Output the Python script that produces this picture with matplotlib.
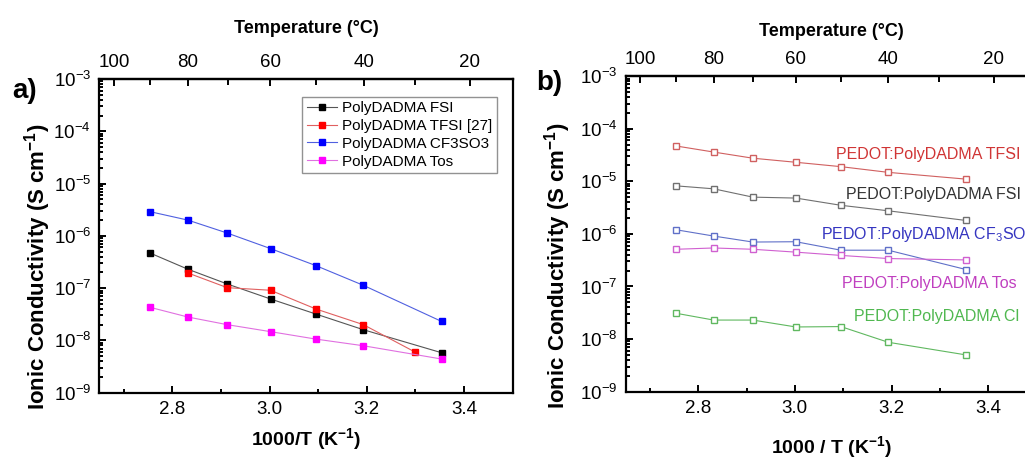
import numpy as np
import matplotlib
matplotlib.use("Agg")
import matplotlib.pyplot as plt
from matplotlib.ticker import LogLocator, NullFormatter, FixedLocator

plt.rcParams['font.family'] = ['Liberation Sans', 'DejaVu Sans']
plt.rcParams['mathtext.fontset'] = 'custom'
plt.rcParams['mathtext.rm'] = 'Liberation Sans'
plt.rcParams['mathtext.bf'] = 'Liberation Sans:bold'
plt.rcParams['mathtext.default'] = 'regular'

# 1000/T (K^-1) of the measurement points
inv_t = [2.754, 2.832, 2.913, 3.002, 3.095, 3.193, 3.354]
inv_t_tfsi = [2.832, 2.913, 3.002, 3.095, 3.193, 3.299]

# a) polyelectrolytes, S/cm
fsi = [4.7e-7, 2.3e-7, 1.2e-7, 6.2e-8, 3.2e-8, 1.6e-8, 5.8e-9]
tfsi = [1.95e-7, 1.02e-7, 9.1e-8, 4.0e-8, 2.0e-8, 6.0e-9]
cf3so3 = [2.9e-6, 2.0e-6, 1.13e-6, 5.7e-7, 2.7e-7, 1.13e-7, 2.3e-8]
tos = [4.3e-8, 2.8e-8, 2.0e-8, 1.47e-8, 1.06e-8, 7.9e-9, 4.4e-9]

# b) PEDOT:PolyDADMA X films, S/cm
pedot_tfsi = [4.7e-5, 3.6e-5, 2.75e-5, 2.3e-5, 1.9e-5, 1.48e-5, 1.1e-5]
pedot_fsi = [8.2e-6, 7.2e-6, 5.0e-6, 4.8e-6, 3.5e-6, 2.75e-6, 1.8e-6]
pedot_cf3so3 = [1.2e-6, 9.1e-7, 7.0e-7, 7.1e-7, 4.9e-7, 4.9e-7, 2.1e-7]
pedot_tos = [5.1e-7, 5.4e-7, 5.1e-7, 4.5e-7, 3.9e-7, 3.4e-7, 3.2e-7]
pedot_cl = [3.1e-8, 2.3e-8, 2.3e-8, 1.7e-8, 1.73e-8, 8.7e-9, 5.0e-9]

temp_major = [100, 80, 60, 40, 20]
temp_minor = [90, 70, 50, 30]


def to_celsius(x):
    with np.errstate(divide='ignore'):
        return 1000.0 / np.asarray(x, dtype=float) - 273.15


def to_inv_t(t):
    with np.errstate(divide='ignore'):
        return 1000.0 / (np.asarray(t, dtype=float) + 273.15)


def style_axes(ax, ylabel_x, top_pad):
    ax.set_yscale('log')
    ax.set_ylim(1e-9, 1e-3)
    ax.set_xlim(2.65, 3.5)
    ax.xaxis.set_major_locator(FixedLocator([2.8, 3.0, 3.2, 3.4]))
    ax.xaxis.set_minor_locator(FixedLocator([2.7, 2.9, 3.1, 3.3]))
    ax.xaxis.set_major_formatter(plt.FuncFormatter(lambda v, p: f'{v:.1f}'))
    ax.yaxis.set_major_locator(LogLocator(base=10, numticks=10))
    ax.yaxis.set_minor_locator(LogLocator(base=10, subs=np.arange(2, 10), numticks=20))
    ax.yaxis.set_minor_formatter(NullFormatter())
    ax.tick_params(which='both', direction='in', top=False, right=False,
                   labelsize=13.5, width=1.4)
    ax.tick_params(which='major', length=5, pad=6)
    ax.tick_params(which='minor', length=3)
    for s in ax.spines.values():
        s.set_linewidth(1.6)
    ax.set_ylabel('Ionic Conductivity (S cm$^{\\mathbf{-1}}$)',
                  fontsize=16, fontweight='bold')
    ax.yaxis.set_label_coords(ylabel_x, 0.40)

    top = ax.secondary_xaxis('top', functions=(to_celsius, to_inv_t))
    top.set_xticks(temp_major)
    top.xaxis.set_minor_locator(FixedLocator(temp_minor))
    top.tick_params(which='both', direction='in', labelsize=13.5, width=1.4, pad=6)
    top.tick_params(which='major', length=5)
    top.tick_params(which='minor', length=4)
    top.spines['top'].set_linewidth(1.6)
    top.set_xlabel('Temperature (°C)', fontsize=13, fontweight='bold', labelpad=top_pad)
    return top


fig = plt.figure(figsize=(10.25, 4.58), dpi=100)
ax1 = fig.add_axes([0.0969, 0.1426, 0.4033, 0.685])
ax2 = fig.add_axes([0.6104, 0.1448, 0.401, 0.689])

# a) filled squares with legend
style_axes(ax1, -0.112, 15)
ms = 5
line_cols = ['#555555', '#e06060', '#5060e0', '#e070e0']
mark_cols = ['black', '#ff0000', '#0000ff', '#ff00ff']
names_a = ['PolyDADMA FSI', 'PolyDADMA TFSI [27]', 'PolyDADMA CF3SO3', 'PolyDADMA Tos']
xs_a = [inv_t, inv_t_tfsi, inv_t, inv_t]
ys_a = [fsi, tfsi, cf3so3, tos]
for xs, ys, lc, mc, name in zip(xs_a, ys_a, line_cols, mark_cols, names_a):
    ax1.plot(xs, ys, '-s', color=lc, lw=0.8, ms=ms, mfc=mc, mec=mc, label=name)
leg = ax1.legend(loc='upper right', bbox_to_anchor=(0.961, 0.944), borderaxespad=0,
                 fontsize=11, frameon=True, fancybox=False, edgecolor='#777777',
                 handlelength=2.0, handletextpad=0.3, labelspacing=0.25,
                 borderpad=0.3)
leg.get_frame().set_linewidth(1.0)
ax1.set_xlabel('1000/T (K$^{\\mathbf{-1}}$)', fontsize=14, fontweight='bold', labelpad=6)

# b) open squares with inline labels
style_axes(ax2, -0.128, 11)
series_b = [
    (pedot_tfsi, '#d06060', '#d03535', 'PEDOT:PolyDADMA TFSI', 3.086, 3.3e-5),
    (pedot_fsi, '#707070', '#333333', 'PEDOT:PolyDADMA FSI', 3.105, 5.6e-6),
    (pedot_cf3so3, '#6070c8', '#3535c0', 'PEDOT:PolyDADMA CF$_3$SO$_3$', 3.053, 9.9e-7),
    (pedot_tos, '#d060d0', '#c040c0', 'PEDOT:PolyDADMA Tos', 3.098, 1.15e-7),
    (pedot_cl, '#60b860', '#50b850', 'PEDOT:PolyDADMA Cl', 3.122, 2.65e-8),
]
for vals, lc, tc, name, tx, ty in series_b:
    ax2.plot(inv_t, vals, '-s', color=lc, lw=0.8, ms=4.8, mfc='white', mec=lc, mew=1.0)
    ax2.text(tx, ty, name, color=tc, fontsize=11.5, ha='left', va='center', clip_on=False)
ax2.set_xlabel('1000 / T (K$^{\\mathbf{-1}}$)', fontsize=14, fontweight='bold', labelpad=12)

fig.text(12 / 1025, 1 - 91 / 458, 'a)', fontsize=20, fontweight='bold', va='center')
fig.text(536 / 1025, 1 - 83 / 458, 'b)', fontsize=20, fontweight='bold', va='center')

fig.savefig('out.png', dpi=100)
